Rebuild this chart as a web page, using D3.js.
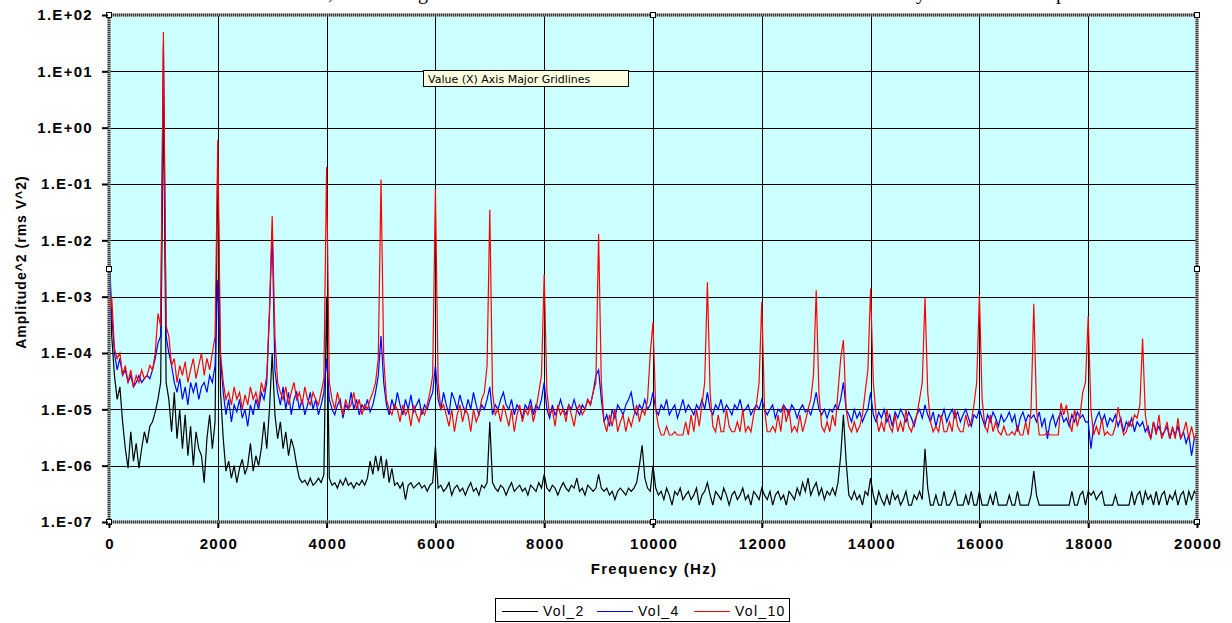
<!DOCTYPE html>
<html>
<head>
<meta charset="utf-8">
<script src="https://cdn.jsdelivr.net/npm/d3@7"></script>
<style>
  html, body { margin: 0; padding: 0; background: #fff; }
  svg { display: block; }
  .bold { font-family: "Liberation Sans", Arial, sans-serif; font-weight: bold; font-size: 15px; letter-spacing: 1.3px; fill: #000; }
  .legend { font-family: "Liberation Sans", Arial, sans-serif; font-size: 14px; letter-spacing: 1.3px; fill: #000; }
  .tip { font-family: "DejaVu Sans", Verdana, sans-serif; font-size: 11px; fill: #000; }
  .caption { font-family: "Liberation Serif", "Times New Roman", serif; font-size: 20px; fill: #000; }
</style>
</head>
<body>
<svg id="chart" width="1232" height="623"></svg>
<script>
// spectra, one value every 50 Hz from 0 to 20000 Hz (one line = 1 kHz)
var freqStep = 50;

var vol2 = [
  1e-2,2e-4,4e-5,1.5e-5,2.5e-5,6e-6,2e-6,9e-7,4e-6,1.2e-6,2.5e-6,9e-7,2e-6,4e-6,2.5e-6,5e-6,6e-6,9e-6,1.5e-5,3e-5,
  5,3e-5,1.5e-5,4e-6,2e-5,3e-6,1e-5,2e-6,8e-6,1.5e-6,5e-6,1e-6,4e-6,2e-6,1.5e-6,5e-7,3e-6,8e-6,2e-6,6e-6,
  0.3,2e-5,3e-6,8e-7,1.2e-6,6e-7,1e-6,5e-7,9e-7,1.3e-6,7e-7,1e-6,2.5e-6,8e-7,1.5e-6,1e-6,2e-6,6e-6,2e-6,1e-5,
  1e-4,8e-6,3e-6,6e-6,2e-6,4e-6,1.5e-6,3e-6,2e-6,1e-6,6e-7,5e-7,5.5e-7,4.5e-7,6e-7,4.5e-7,5e-7,6e-7,5e-7,7e-7,
  1e-3,6e-7,4.5e-7,5e-7,4e-7,5.5e-7,4.5e-7,6e-7,4.5e-7,5e-7,4e-7,5e-7,4.5e-7,5.5e-7,4.5e-7,6e-7,1.2e-6,7e-7,1.5e-6,8e-7,
  1.5e-6,6e-7,1.3e-6,5e-7,9e-7,4.5e-7,5e-7,4e-7,5e-7,2.5e-7,4.5e-7,5e-7,4e-7,4.5e-7,5e-7,4e-7,4.5e-7,3.5e-7,4.5e-7,5e-7,
  2.2e-6,4e-7,4.5e-7,3.5e-7,4e-7,5e-7,3e-7,4e-7,4.5e-7,3.5e-7,4e-7,3e-7,4e-7,5e-7,3.5e-7,4e-7,3e-7,4.5e-7,4e-7,5e-7,
  6e-6,5e-7,4e-7,3.5e-7,4.5e-7,4e-7,3e-7,4e-7,5e-7,3.5e-7,4e-7,4.5e-7,3.5e-7,4e-7,3e-7,4.5e-7,4e-7,3.5e-7,5e-7,4e-7,
  7e-7,4e-7,3.5e-7,4.5e-7,4e-7,3e-7,4e-7,5e-7,4e-7,3.5e-7,4.5e-7,4e-7,6e-7,3.5e-7,4e-7,3e-7,4.5e-7,4e-7,3.5e-7,4e-7,
  7e-7,4e-7,3.5e-7,4e-7,3e-7,3.5e-7,2.5e-7,3.5e-7,4e-7,3.5e-7,3e-7,4e-7,3.5e-7,4e-7,5e-7,1e-6,2.3e-6,6e-7,4e-7,3.5e-7,
  1e-6,4e-7,3e-7,3.5e-7,2.5e-7,4e-7,3e-7,2e-7,3.5e-7,3e-7,4e-7,2.5e-7,3e-7,3.5e-7,2.5e-7,3e-7,4e-7,2e-7,3e-7,3.5e-7,
  5e-7,3e-7,2e-7,3.5e-7,3e-7,2.5e-7,4e-7,3e-7,2e-7,3e-7,3.5e-7,2.5e-7,3e-7,4e-7,2.5e-7,3e-7,2e-7,3.5e-7,3e-7,2.5e-7,
  4e-7,3e-7,2.5e-7,3.5e-7,2e-7,3e-7,3.5e-7,2.5e-7,3e-7,2e-7,3.5e-7,3e-7,2.5e-7,4e-7,3e-7,5e-7,3.5e-7,6e-7,3e-7,4e-7,
  5e-7,3e-7,4e-7,2.5e-7,3.5e-7,3e-7,4e-7,3e-7,5e-7,1.5e-6,8e-6,1.2e-6,3e-7,2.5e-7,3.5e-7,2.5e-7,3e-7,2e-7,3.5e-7,3e-7,
  6e-7,3e-7,2e-7,3.5e-7,2.5e-7,2e-7,3e-7,2e-7,3.5e-7,2.5e-7,3e-7,2e-7,2.5e-7,3.5e-7,2e-7,2e-7,3e-7,2.5e-7,3.5e-7,2.5e-7,
  2e-6,4e-7,2e-7,2e-7,3e-7,2e-7,2e-7,3.5e-7,2e-7,2e-7,2.5e-7,3.5e-7,2e-7,2e-7,2e-7,3e-7,2e-7,3.5e-7,2e-7,2e-7,
  3.5e-7,2e-7,2e-7,2e-7,3e-7,2e-7,3.5e-7,2e-7,2e-7,2e-7,2e-7,3e-7,2e-7,2e-7,3.5e-7,2e-7,2e-7,2e-7,2e-7,3e-7,
  8e-7,3e-7,2e-7,2e-7,2e-7,2e-7,2e-7,2e-7,2e-7,2e-7,2e-7,2e-7,2e-7,2e-7,3.5e-7,2e-7,2e-7,3e-7,3.5e-7,2e-7,
  3.5e-7,3e-7,3.5e-7,2.5e-7,3e-7,3.5e-7,2e-7,2e-7,2e-7,2e-7,3e-7,2e-7,2e-7,2e-7,2e-7,2e-7,3.5e-7,2e-7,3e-7,3.5e-7,
  2e-7,3.5e-7,2.5e-7,3e-7,2e-7,3.5e-7,2e-7,3e-7,3.5e-7,2e-7,3e-7,2.5e-7,3.5e-7,2e-7,3e-7,3.5e-7,2e-7,3.5e-7,2.5e-7,3.5e-7,
  3e-7
];

var vol4 = [
  8e-3,5e-4,1e-4,5e-5,8e-5,4e-5,5e-5,3e-5,4e-5,2.5e-5,3e-5,4e-5,3e-5,3.5e-5,4e-5,3.5e-5,5e-5,8e-5,1.5e-4,2e-4,
  30,2e-4,1e-4,6e-5,3e-5,2e-5,3.5e-5,1.5e-5,2.5e-5,1.2e-5,3e-5,2e-5,3e-5,1.5e-5,2.5e-5,3e-5,2e-5,4e-5,3e-5,6e-5,
  2e-3,8e-5,2e-5,8e-6,1.5e-5,6e-6,1.2e-5,9e-6,1.5e-5,7e-6,1e-5,5e-6,1.2e-5,8e-6,1.5e-5,1e-5,2e-5,1.5e-5,3e-5,5e-4,
  1.5e-2,5e-5,2e-5,1.2e-5,2.5e-5,1e-5,2e-5,8e-6,1.5e-5,2e-5,1e-5,1.5e-5,8e-6,1.2e-5,2e-5,1e-5,1.5e-5,8e-6,1.2e-5,2e-5,
  8e-5,1.5e-5,1e-5,8e-6,1.2e-5,1.5e-5,7e-6,1.2e-5,1e-5,2e-5,1e-5,1.5e-5,8e-6,1.2e-5,1e-5,1.5e-5,9e-6,1.2e-5,2e-5,4e-5,
  2e-4,3e-5,1.2e-5,8e-6,1.5e-5,1e-5,2e-5,1.2e-5,8e-6,1.5e-5,1e-5,1.8e-5,9e-6,1.2e-5,1.5e-5,8e-6,1.2e-5,1e-5,1.5e-5,2e-5,
  6e-5,1.5e-5,1e-5,2e-5,1.2e-5,8e-6,2e-5,1.5e-5,1e-5,1.8e-5,1.2e-5,9e-6,1.5e-5,1e-5,2e-5,1.2e-5,8e-6,1.2e-5,1e-5,1.5e-5,
  2.5e-5,8e-6,1.2e-5,1e-5,1.5e-5,2e-5,1.2e-5,1e-5,1.5e-5,8e-6,1.2e-5,1e-5,7e-6,1.2e-5,1e-5,1.5e-5,8e-6,1.2e-5,1e-5,1.5e-5,
  3e-5,1e-5,7e-6,1.2e-5,8e-6,1e-5,1.5e-5,1e-5,8e-6,1.2e-5,1e-5,1.5e-5,1e-5,8e-6,1.2e-5,1e-5,1.5e-5,1.2e-5,2e-5,4e-5,
  5e-5,1.5e-5,6e-6,8e-6,5e-6,1e-5,7e-6,1.2e-5,1e-5,8e-6,1.2e-5,1.5e-5,2e-5,1e-5,8e-6,1.2e-5,1e-5,1.5e-5,1e-5,1.2e-5,
  2e-5,1e-5,8e-6,1.2e-5,1e-5,1.5e-5,8e-6,1e-5,1.2e-5,7e-6,1e-5,1.5e-5,9e-6,1.2e-5,1e-5,8e-6,1.2e-5,1e-5,1.5e-5,1e-5,
  2e-5,1e-5,8e-6,1.2e-5,1e-5,1.5e-5,9e-6,1.2e-5,1e-5,8e-6,1.2e-5,1e-5,1.5e-5,9e-6,1e-5,1.2e-5,8e-6,1e-5,1.2e-5,1e-5,
  1.5e-5,1e-5,8e-6,1e-5,1.2e-5,7e-6,1e-5,9e-6,1.2e-5,1e-5,8e-6,1.2e-5,1e-5,7e-6,1e-5,1.2e-5,9e-6,1e-5,8e-6,1.2e-5,
  2e-5,1e-5,8e-6,1e-5,7e-6,1e-5,9e-6,1.2e-5,1e-5,1.5e-5,3e-5,1e-5,8e-6,6e-6,1e-5,7e-6,9e-6,6e-6,8e-6,1e-5,
  2e-5,8e-6,6e-6,9e-6,7e-6,1e-5,6e-6,8e-6,5e-6,9e-6,7e-6,1e-5,8e-6,6e-6,9e-6,7e-6,5e-6,8e-6,1e-5,7e-6,
  1.2e-5,8e-6,6e-6,9e-6,5e-6,8e-6,7e-6,1e-5,6e-6,8e-6,1e-5,7e-6,9e-6,6e-6,8e-6,1e-5,7e-6,5e-6,8e-6,7e-6,
  1e-5,7e-6,5e-6,8e-6,6e-6,9e-6,7e-6,5e-6,8e-6,6e-6,7e-6,9e-6,6e-6,8e-6,4e-6,7e-6,9e-6,6e-6,8e-6,7e-6,
  8e-6,6e-6,9e-6,5e-6,7e-6,3e-6,6e-6,8e-6,5e-6,7e-6,9e-6,6e-6,7e-6,5e-6,8e-6,6e-6,9e-6,7e-6,8e-6,6e-6,
  6e-6,2e-6,5e-6,7e-6,9e-6,6e-6,8e-6,5e-6,7e-6,6e-6,8e-6,5e-6,7e-6,4e-6,6e-6,5e-6,7e-6,4e-6,6e-6,5e-6,
  6e-6,4e-6,5e-6,3e-6,6e-6,4e-6,5e-6,3.5e-6,4e-6,5e-6,3e-6,4.5e-6,3.5e-6,5e-6,3e-6,4e-6,2.5e-6,3.5e-6,1.5e-6,3e-6,
  3.5e-6
];

var vol10 = [
  3e-4,1e-3,1.2e-4,8e-5,1e-4,4e-5,6e-5,3e-5,5e-5,2.5e-5,4e-5,3e-5,5e-5,3.5e-5,4e-5,6e-5,5e-5,1e-4,5e-4,3e-4,
  50,3e-4,2e-4,6e-5,8e-5,3e-5,6e-5,4e-5,7e-5,3e-5,5e-5,8e-5,3.5e-5,6e-5,1e-4,4e-5,8e-5,5e-5,1e-4,2e-4,
  0.6,1e-4,3e-5,1.5e-5,2e-5,1.2e-5,2.5e-5,1.5e-5,2e-5,1e-5,1.8e-5,1.2e-5,2.5e-5,1.5e-5,2e-5,1.2e-5,3e-5,2e-5,4e-5,6e-4,
  2.7e-2,2e-4,3e-5,2e-5,1.5e-5,2.5e-5,1.2e-5,2e-5,3e-5,1.5e-5,2e-5,1.2e-5,2.5e-5,1.5e-5,1.2e-5,2e-5,1.5e-5,1.2e-5,2e-5,3.5e-5,
  0.2,3e-5,1.5e-5,1e-5,2e-5,1.2e-5,8e-6,1.5e-5,1e-5,1.2e-5,2e-5,1e-5,1.5e-5,8e-6,1.2e-5,1e-5,1.5e-5,2e-5,3e-5,8e-5,
  0.12,8e-5,1.5e-5,1e-5,8e-6,1.2e-5,1e-5,6e-6,1.2e-5,8e-6,1e-5,5e-6,1.2e-5,8e-6,6e-6,1e-5,8e-6,1.2e-5,2e-5,4e-5,
  8e-2,3e-5,1e-5,1.2e-5,8e-6,5e-6,1e-5,4e-6,8e-6,1.2e-5,6e-6,1e-5,8e-6,4e-6,1e-5,6e-6,8e-6,1.5e-5,2e-5,6e-5,
  3.5e-2,2e-5,8e-6,1e-5,6e-6,1.2e-5,8e-6,5e-6,1e-5,4e-6,8e-6,1.2e-5,6e-6,1e-5,8e-6,1.2e-5,6e-6,1e-5,2e-5,4e-5,
  2.5e-3,2e-5,8e-6,1e-5,5e-6,1.2e-5,8e-6,1e-5,6e-6,1.2e-5,8e-6,5e-6,1e-5,1.2e-5,8e-6,1e-5,1.5e-5,1.2e-5,2e-5,3e-5,
  1.3e-2,3e-5,6e-6,4e-6,8e-6,5e-6,1e-5,4e-6,6e-6,8e-6,4e-6,7e-6,5e-6,8e-6,1.2e-5,6e-6,1e-5,8e-6,1.5e-5,1e-4,
  3.5e-4,1e-5,5e-6,3.5e-6,3.5e-6,5e-6,3.5e-6,3.5e-6,4e-6,3.5e-6,3.5e-6,3.5e-6,6e-6,3.5e-6,8e-6,4e-6,1e-5,5e-6,1.2e-5,3e-5,
  1.8e-3,2e-5,5e-6,4e-6,8e-6,4e-6,4e-6,1e-5,5e-6,4e-6,4e-6,6e-6,4e-6,1e-5,4e-6,5e-6,4e-6,8e-6,1.2e-5,3e-5,
  8e-4,1e-5,4e-6,4e-6,5e-6,4e-6,8e-6,4e-6,1.2e-5,6e-6,1e-5,4e-6,5e-6,4e-6,8e-6,4e-6,6e-6,1e-5,1.5e-5,4e-5,
  1.3e-3,2e-5,5e-6,4e-6,6e-6,4e-6,8e-6,5e-6,2e-5,8e-5,1.7e-4,1e-5,5e-6,4e-6,6e-6,4e-6,5e-6,8e-6,2e-5,5e-5,
  1.4e-3,3e-5,8e-6,4e-6,6e-6,4e-6,1e-5,5e-6,4e-6,8e-6,4e-6,6e-6,4e-6,1e-5,5e-6,4e-6,6e-6,8e-6,1.5e-5,3e-5,
  1e-3,2e-5,6e-6,4e-6,5e-6,4e-6,8e-6,4e-6,4e-6,6e-6,4e-6,1e-5,5e-6,4e-6,4e-6,8e-6,5e-6,6e-6,1.2e-5,3e-5,
  1.1e-3,1.5e-5,5e-6,4e-6,8e-6,4e-6,6e-6,4e-6,3.5e-6,5e-6,3.5e-6,3.5e-6,4e-6,3.5e-6,5e-6,3.5e-6,3.5e-6,6e-6,3.5e-6,1e-5,
  7.5e-4,1e-5,3.5e-6,3.5e-6,3.5e-6,4e-6,3.5e-6,3.5e-6,3.5e-6,3.5e-6,1.3e-5,8e-6,1.2e-5,6e-6,4e-6,1e-5,5e-6,8e-6,2e-5,3e-5,
  4.5e-4,1e-5,3.5e-6,5e-6,3.5e-6,7e-6,3.5e-6,4e-6,3.5e-6,3.5e-6,5e-6,1.1e-5,6e-6,3.5e-6,4e-6,6e-6,5e-6,8e-6,7e-6,1.2e-5,
  1.8e-4,8e-6,4e-6,3e-6,6e-6,3.5e-6,8e-6,3e-6,4e-6,6e-6,3e-6,5e-6,3e-6,7e-6,3e-6,4e-6,6e-6,3e-6,5e-6,3e-6,
  4e-6
];

var seriesNames = ["Vol_2", "Vol_4", "Vol_10"];
var seriesColors = ["#000000", "#0000ff", "#ff0000"];

var xTicks = [0, 2000, 4000, 6000, 8000, 10000, 12000, 14000, 16000, 18000, 20000];
var yTicks = [1e-7, 1e-6, 1e-5, 1e-4, 1e-3, 1e-2, 1e-1, 1e0, 1e1, 1e2];
var yTickLabels = ["1.E-07", "1.E-06", "1.E-05", "1.E-04", "1.E-03", "1.E-02", "1.E-01", "1.E+00", "1.E+01", "1.E+02"];

var svg = d3.select('#chart');
var plotL = 109, plotR = 1197, plotT = 15, plotB = 522;

var x = d3.scaleLinear().domain([0, 20000]).range([plotL, plotR]);
var y = d3.scaleLog().domain([1e-7, 1e2]).range([plotB, plotT]);

// clipped caption above the plot (only the descenders show)
svg.append('text').attr('class', 'caption').attr('x', 333).attr('y', -1).attr('text-anchor', 'end').text('measured at each volume,');
svg.append('text').attr('class', 'caption').attr('x', 418).attr('y', -1).text('growth');
svg.append('text').attr('class', 'caption').attr('x', 926).attr('y', -1).attr('text-anchor', 'end').text('steadily');
svg.append('text').attr('class', 'caption').attr('x', 1056).attr('y', -1).text('peaks');

// plot area
svg.append('rect')
    .attr('x', plotL).attr('y', plotT)
    .attr('width', plotR - plotL).attr('height', plotB - plotT)
    .attr('fill', '#ccffff');

// gridlines
svg.append('g').selectAll('line').data(yTicks).enter().append('line')
    .attr('x1', plotL).attr('x2', plotR)
    .attr('y1', function(d){ return Math.round(y(d)) + 0.5; })
    .attr('y2', function(d){ return Math.round(y(d)) + 0.5; })
    .attr('stroke', '#000').attr('stroke-width', 1);
svg.append('g').selectAll('line').data(xTicks).enter().append('line')
    .attr('x1', function(d){ return Math.round(x(d)) + 0.5; })
    .attr('x2', function(d){ return Math.round(x(d)) + 0.5; })
    .attr('y1', plotT).attr('y2', plotB)
    .attr('stroke', '#000').attr('stroke-width', 1);

// series
svg.append('clipPath').attr('id', 'plotclip').append('rect')
    .attr('x', plotL).attr('y', plotT).attr('width', plotR - plotL).attr('height', plotB - plotT);

var line = d3.line()
    .x(function(d, i){ return x(i * freqStep); })
    .y(function(d){ return y(d); });

var allSeries = [vol2, vol4, vol10];
svg.append('g').attr('clip-path', 'url(#plotclip)')
  .selectAll('path').data(allSeries).enter().append('path')
    .attr('d', line)
    .attr('fill', 'none')
    .attr('stroke', function(d, i){ return seriesColors[i]; })
    .attr('stroke-width', 1.2)
    .attr('stroke-linejoin', 'miter');

// selected plot area border (hatched) and handles
svg.append('rect')
    .attr('x', plotL).attr('y', plotT).attr('width', plotR - plotL).attr('height', plotB - plotT)
    .attr('fill', 'none').attr('stroke', '#a0a0a0').attr('stroke-width', 3);
svg.append('rect')
    .attr('x', plotL).attr('y', plotT).attr('width', plotR - plotL).attr('height', plotB - plotT)
    .attr('fill', 'none').attr('stroke', '#404040').attr('stroke-width', 3).attr('stroke-dasharray', '1,1');

var handles = [[plotL, plotT], [(plotL + plotR) / 2, plotT], [plotR, plotT], [plotL, (plotT + plotB) / 2],
               [plotR, (plotT + plotB) / 2], [plotL, plotB], [(plotL + plotR) / 2, plotB], [plotR, plotB]];
svg.append('g').selectAll('rect').data(handles).enter().append('rect')
    .attr('x', function(d){ return Math.round(d[0]) - 2.5; })
    .attr('y', function(d){ return Math.round(d[1]) - 2.5; })
    .attr('width', 5).attr('height', 5)
    .attr('fill', '#fff').attr('stroke', '#000').attr('stroke-width', 1);

// axes
var yAxis = d3.axisLeft(y).tickValues(yTicks)
    .tickFormat(function(d, i){ return yTickLabels[i]; })
    .tickSize(6).tickPadding(9);
var gy = svg.append('g').attr('transform', 'translate(' + (plotL - 1) + ',0)').call(yAxis);
gy.select('.domain').remove();
gy.selectAll('line').attr('stroke', '#000').attr('stroke-width', 2);
gy.selectAll('text').attr('class', 'bold');
gy.attr('font-size', null).attr('font-family', null);

var xAxis = d3.axisBottom(x).tickValues(xTicks)
    .tickFormat(d3.format('d'))
    .tickSize(5).tickPadding(10);
var gx = svg.append('g').attr('transform', 'translate(0,' + (plotB + 1) + ')').call(xAxis);
gx.select('.domain').remove();
gx.selectAll('line').attr('stroke', '#000').attr('stroke-width', 2);
gx.selectAll('text').attr('class', 'bold').attr('dx', '0.65px');
gx.attr('font-size', null).attr('font-family', null);

// axis titles
svg.append('text').attr('class', 'bold')
    .attr('x', 654).attr('y', 574).attr('text-anchor', 'middle')
    .text('Frequency (Hz)');
svg.append('text').attr('class', 'bold')
    .attr('transform', 'translate(26,262) rotate(-90)')
    .attr('text-anchor', 'middle')
    .style('font-size', '14px').style('letter-spacing', '1px')
    .text('Amplitude^2 (rms V^2)');

// legend
var legend = svg.append('g');
legend.append('rect')
    .attr('x', 495.5).attr('y', 598.5).attr('width', 294).attr('height', 23)
    .attr('fill', '#fff').attr('stroke', '#000').attr('stroke-width', 1);
var legendX = [502, 597, 694];
seriesNames.forEach(function(name, i){
  legend.append('line')
      .attr('x1', legendX[i]).attr('x2', legendX[i] + 36)
      .attr('y1', 611.5).attr('y2', 611.5)
      .attr('stroke', seriesColors[i]).attr('stroke-width', 1);
  legend.append('text').attr('class', 'legend')
      .attr('x', legendX[i] + 41).attr('y', 616)
      .text(name);
});

// tooltip
var tip = svg.append('g');
tip.append('rect')
    .attr('x', 423.5).attr('y', 70.5).attr('width', 205).attr('height', 16)
    .attr('fill', '#ffffe1').attr('stroke', '#000').attr('stroke-width', 1);
tip.append('text').attr('class', 'tip')
    .attr('x', 428).attr('y', 82.5)
    .text('Value (X) Axis Major Gridlines');
</script>
</body>
</html>
